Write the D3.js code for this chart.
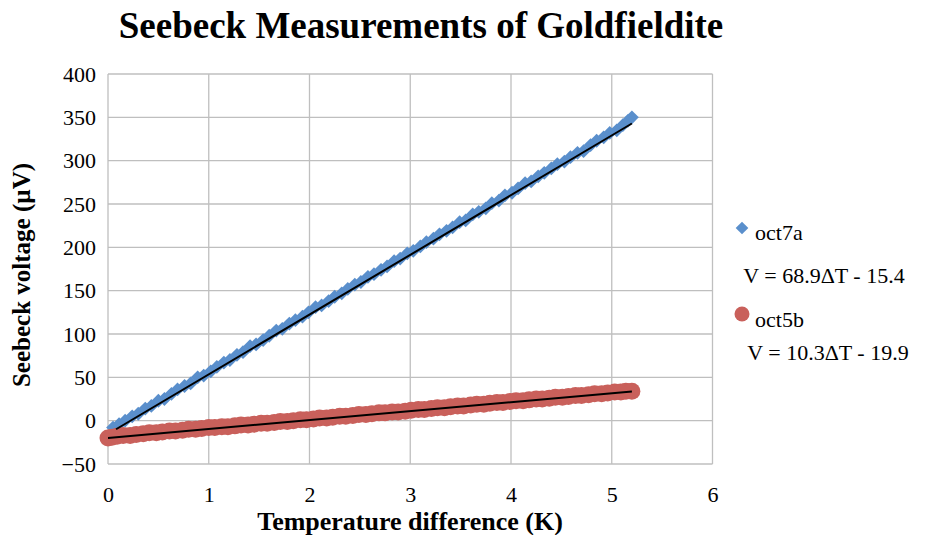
<!DOCTYPE html>
<html><head><meta charset="utf-8">
<script src="https://cdn.jsdelivr.net/npm/d3@7"></script>
</head><body style="margin:0">
<svg id="c" width="927" height="535"></svg>
<script>
const xTicks = [0,1,2,3,4,5,6];
const yTicks = [-50,0,50,100,150,200,250,300,350,400];
const seriesNames = ["oct7a","oct5b"];
const fitLabels = ["V = 68.9\u0394T - 15.4","V = 10.3\u0394T - 19.9"];
const fitSlopes = [68.9, 10.3];
const fitIntercepts = [-15.4, -19.9];
const fitRanges = [[0.08,5.2],[0,5.2]];
const oct7aX = [0.05,0.11,0.17,0.24,0.30,0.37,0.43,0.50,0.56,0.63,0.69,0.76,0.82,0.89,0.95,1.02,1.08,1.15,1.21,1.28,1.34,1.41,1.47,1.54,1.60,1.67,1.73,1.80,1.86,1.93,1.99,2.06,2.12,2.19,2.25,2.32,2.38,2.45,2.51,2.58,2.64,2.71,2.77,2.84,2.90,2.97,3.03,3.10,3.16,3.23,3.29,3.36,3.42,3.49,3.55,3.62,3.68,3.75,3.81,3.88,3.94,4.01,4.07,4.14,4.20,4.27,4.33,4.40,4.46,4.53,4.59,4.66,4.72,4.79,4.85,4.92,4.98,5.05,5.11,5.16,5.20];
const oct7aY = [-8,-4,0,5,8,14,17,23,25,31,36,40,43,50,52,57,62,67,70,76,79,86,88,93,98,104,106,112,116,120,125,131,133,138,143,147,152,157,160,166,169,174,178,184,187,193,196,201,206,210,215,219,223,229,231,238,241,245,251,254,260,263,268,274,276,282,286,291,296,299,304,309,311,318,323,327,332,335,341,346,350];
const oct5bX = [0.00,0.04,0.09,0.15,0.22,0.28,0.35,0.41,0.48,0.54,0.61,0.67,0.74,0.80,0.87,0.93,1.00,1.06,1.13,1.19,1.26,1.32,1.39,1.45,1.52,1.58,1.65,1.71,1.78,1.84,1.91,1.97,2.04,2.10,2.17,2.23,2.30,2.36,2.43,2.49,2.56,2.62,2.69,2.75,2.82,2.88,2.95,3.01,3.08,3.14,3.21,3.27,3.34,3.40,3.47,3.53,3.60,3.66,3.73,3.79,3.86,3.92,3.99,4.05,4.12,4.18,4.25,4.31,4.38,4.44,4.51,4.57,4.64,4.70,4.77,4.83,4.90,4.96,5.03,5.09,5.14,5.20];
const oct5bY = [-20,-19,-18,-17,-17,-16,-15,-14,-14,-13,-12,-12,-11,-10,-10,-9,-8,-8,-7,-7,-6,-5,-5,-4,-3,-3,-2,-1,-1,0,1,1,2,3,3,4,5,5,6,7,7,8,9,9,10,10,11,12,13,13,14,15,15,16,17,17,18,19,19,20,21,21,22,23,23,24,25,25,26,27,27,28,29,29,30,31,31,32,33,33,34,34];

const FONT = "'Liberation Serif'";
const svg = d3.select("#c");
const L=108, R=712.5, T=74, B=464;
const x = d3.scaleLinear().domain([0,6]).range([L,R]);
const y = d3.scaleLinear().domain([-50,400]).range([B,T]);
const blue="#5A8FCC", red="#C9605B", grid="#BFBFBF";

function txt(size,bold){ const t=svg.append("text").style("font-family",FONT).style("font-size",size+"px"); if(bold) t.style("font-weight","bold"); return t; }

// text first (legend, titles), as in the layout that rendered serif correctly
txt(37,true).attr("x",421).attr("y",38).attr("text-anchor","middle").text("Seebeck Measurements of Goldfieldite");
svg.append("path").attr("d",d3.symbol().type(d3.symbolSquare).size(80)())
  .attr("transform","translate(742,228) rotate(45)").attr("fill",blue);
txt(22).attr("x",755).attr("y",240).text(seriesNames[0]);
txt(22).attr("x",824).attr("y",283).attr("text-anchor","middle").text(fitLabels[0]);
svg.append("circle").attr("cx",742).attr("cy",314).attr("r",7.5).attr("fill",red);
txt(22).attr("x",755).attr("y",327).text(seriesNames[1]);
txt(22).attr("x",828).attr("y",360).attr("text-anchor","middle").text(fitLabels[1]);
txt(26,true).attr("x",410).attr("y",530).attr("text-anchor","middle").text("Temperature difference (K)");
txt(25,true).attr("transform","translate(30,275) rotate(-90)").attr("text-anchor","middle").text("Seebeck voltage (\u00B5V)");

svg.append("g").selectAll("line").data(yTicks).join("line")
  .attr("x1",L).attr("x2",R).attr("y1",d=>y(d)).attr("y2",d=>y(d))
  .attr("stroke",grid).attr("stroke-width",1.3);
svg.append("g").selectAll("line").data(xTicks).join("line")
  .attr("x1",d=>x(d)).attr("x2",d=>x(d)).attr("y1",T).attr("y2",B)
  .attr("stroke",grid).attr("stroke-width",1.3);

const yAxis = d3.axisLeft(y).tickValues(yTicks).tickFormat(d3.format("d")).tickSize(0).tickPadding(12);
const ya = svg.append("g").attr("transform",`translate(${L},0)`).call(yAxis);
ya.select(".domain").remove();
ya.selectAll("text").style("font-family",FONT).style("font-size","22px").attr("fill","#000");
const xAxis = d3.axisBottom(x).tickValues(xTicks).tickFormat(d3.format("d")).tickSize(0).tickPadding(22);
const xa = svg.append("g").attr("transform",`translate(0,${B})`).call(xAxis);
xa.select(".domain").remove();
xa.selectAll("text").style("font-family",FONT).style("font-size","22px").attr("fill","#000");

const d7 = oct7aX.map((v,i)=>[v,oct7aY[i]]);
const d5 = oct5bX.map((v,i)=>[v,oct5bY[i]]);
const diamond = d3.symbol().type(d3.symbolSquare).size(95);
svg.append("g").selectAll("path").data(d7).join("path")
  .attr("d",diamond()).attr("fill",blue)
  .attr("transform",d=>`translate(${x(d[0])},${y(d[1])}) rotate(45)`);
svg.append("g").selectAll("circle").data(d5).join("circle")
  .attr("cx",d=>x(d[0])).attr("cy",d=>y(d[1])).attr("r",8.5).attr("fill",red);

fitSlopes.forEach((m,i)=>{
  const [a,b]=fitRanges[i];
  svg.append("line").attr("x1",x(a)).attr("y1",y(m*a+fitIntercepts[i]))
    .attr("x2",x(b)).attr("y2",y(m*b+fitIntercepts[i]))
    .attr("stroke","#000").attr("stroke-width",2);
});
</script></body></html>
